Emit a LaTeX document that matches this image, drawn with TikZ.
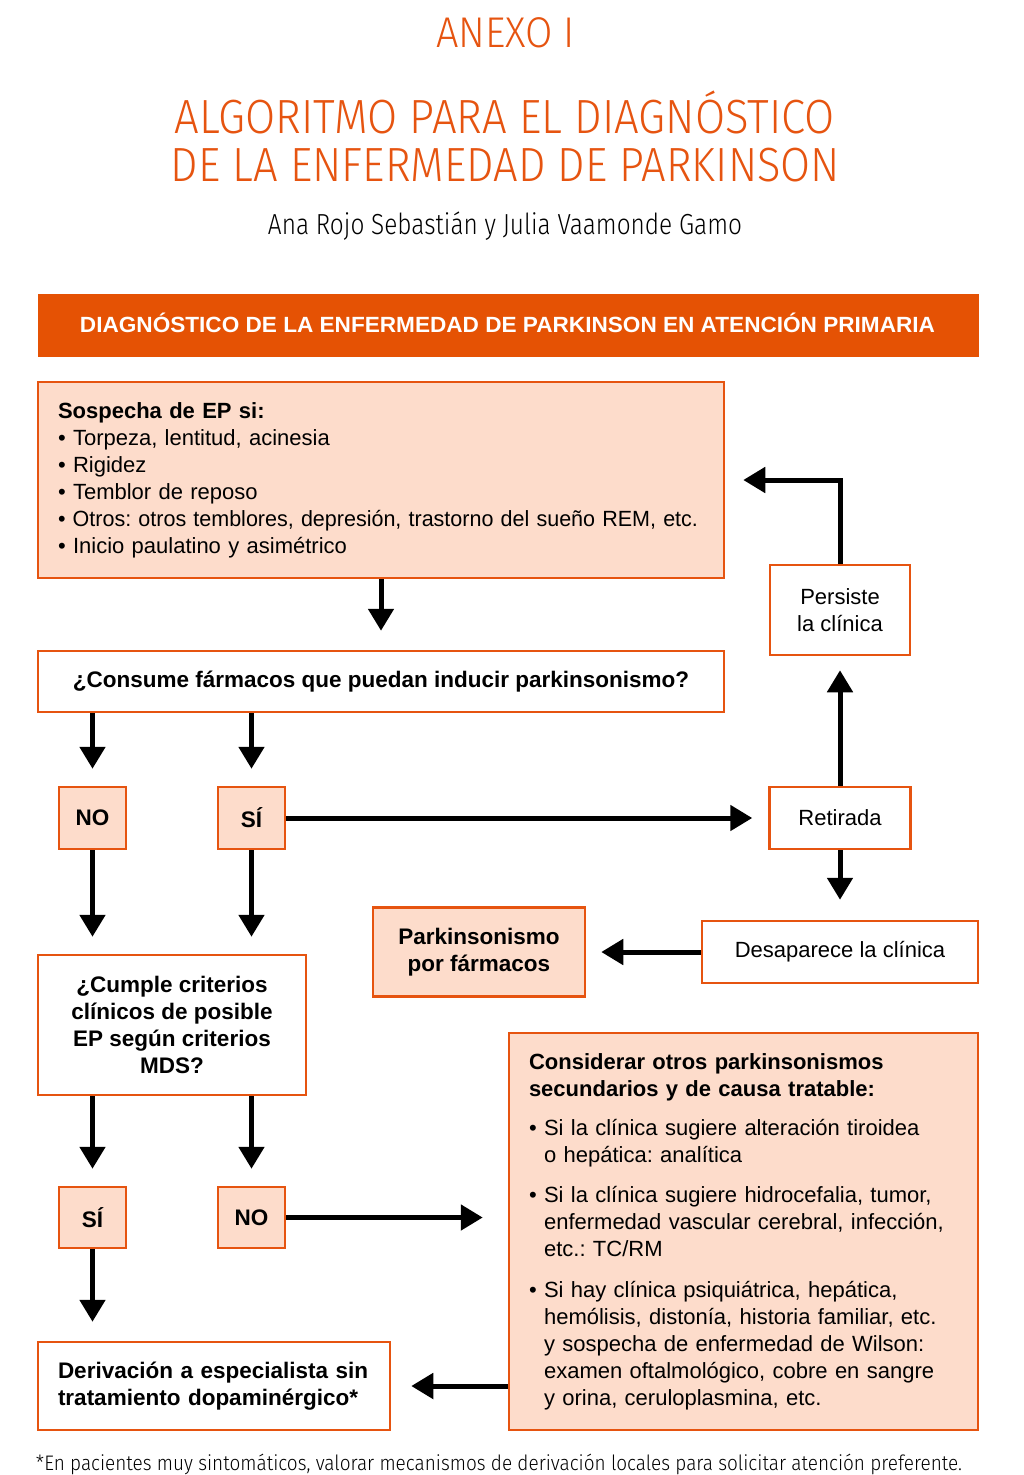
\documentclass[tikz,border=0pt]{standalone}
\usepackage{fontspec}
\usepackage{graphicx}
\setmainfont{Liberation Sans}
\IfFontExistsTF{Fira Sans Light}{\newfontfamily\lightf{Fira Sans Light}}{\newfontfamily\lightf{Fira Sans}}
\usetikzlibrary{arrows.meta}
\definecolor{orng}{HTML}{E65410}
\definecolor{peach}{HTML}{FDDCCB}
\definecolor{bannerc}{HTML}{E55204}
\newcommand{\wfit}[2]{\resizebox{#1pt}{\height}{#2}}
\newcommand{\bul}{\textbullet\ }
\newcommand{\ind}{\phantom{\textbullet\ }}
\begin{document}
\frenchspacing
\begin{tikzpicture}[x=1pt,y=-1pt,
  box/.style={draw=orng, line width=2.5pt, inner sep=0pt, font=\fontsize{22}{27}\selectfont\frenchspacing},
  pbox/.style={box, fill=peach},
  wbox/.style={box, fill=white},
  bld/.style={font=\fontsize{22.5}{27}\selectfont\bfseries\frenchspacing},
  ttl/.style={anchor=base, inner sep=0pt, text=orng},
  arr/.style={draw=black, line width=5pt, -{Triangle[length=22pt,width=25pt]}}]
\useasboundingbox (0,0) rectangle (1024,1475);
\fill[white] (0,0) rectangle (1024,1475);
% titles
\node[ttl, font=\lightf\fontsize{43}{43}\selectfont] (anexo) at (505.5,47) {\wfit{139}{ANEXO I}};
\node[ttl, font=\lightf\fontsize{48}{48}\selectfont] (t1) at (505,133) {\wfit{660}{ALGORITMO PARA EL DIAGNÓSTICO}};
\node[ttl, font=\lightf\fontsize{48}{48}\selectfont] (t2) at (505.5,181) {\wfit{669}{DE LA ENFERMEDAD DE PARKINSON}};
\node[ttl, text=black, font=\lightf\fontsize{29}{29}\selectfont] (auth) at (505,234) {\wfit{474}{Ana Rojo Sebastián y Julia Vaamonde Gamo}};
% banner
\node[fill=bannerc, minimum width=941, minimum height=63, inner sep=0pt] (banner) at (508.5,325.5) {};
\node[anchor=base, inner sep=0pt, text=white, font=\fontsize{22}{22}\selectfont\bfseries] (bannertext) at (507.5,332) {\wfit{855}{DIAGNÓSTICO DE LA ENFERMEDAD DE PARKINSON EN ATENCIÓN PRIMARIA}};
% boxes
\node[pbox, minimum width=686, minimum height=196, text width=646, align=left] (sosp) at (381,480)
 {\textbf{Sospecha de EP si:}\\
  \bul Torpeza, lentitud, acinesia\\
  \bul Rigidez\\
  \bul Temblor de reposo\\
  \wfit{640}{\bul Otros: otros temblores, depresión, trastorno del sueño REM, etc.}\\
  \bul Inicio paulatino y asimétrico};
\node[wbox, bld, minimum width=686, minimum height=61] (cons) at (381,681.5) {¿Consume fármacos que puedan inducir parkinsonismo?};
\node[pbox, bld, minimum width=67, minimum height=62] (no1) at (92.5,818) {NO};
\node[pbox, bld, minimum width=67, minimum height=62] (si1) at (251.5,818) {SÍ};
\node[wbox, minimum width=141, minimum height=62] (retir) at (840,818) {Retirada};
\node[wbox, minimum width=140, minimum height=90, align=center] (pers) at (840,610) {Persiste\\la clínica};
\node[wbox, minimum width=276, minimum height=62] (desap) at (840,952) {Desaparece la clínica};
\node[pbox, bld, minimum width=212, minimum height=89, align=center] (parkf) at (479,952) {Parkinsonismo\\por fármacos};
\node[wbox, bld, minimum width=268, minimum height=140, align=center] (cump) at (172,1025) {¿Cumple criterios\\clínicos de posible\\EP según criterios\\MDS?};
\node[pbox, bld, minimum width=67, minimum height=61] (si2) at (92.5,1217.5) {SÍ};
\node[pbox, bld, minimum width=67, minimum height=61] (no2) at (251.5,1217.5) {NO};
\node[wbox, bld, minimum width=352, minimum height=88, text width=312, align=left] (deriv) at (214,1386) {Derivación a especialista sin\\tratamiento dopaminérgico*};
\node[pbox, minimum width=469, minimum height=397, text width=429, align=left] (consid) at (743.5,1231.5)
 {\textbf{Considerar otros parkinsonismos}\\
  \textbf{secundarios y de causa tratable:}\\[12pt]
  \bul Si la clínica sugiere alteración tiroidea\\
  \ind o hepática: analítica\\[13pt]
  \bul Si la clínica sugiere hidrocefalia, tumor,\\
  \ind enfermedad vascular cerebral, infección,\\
  \ind etc.: TC/RM\\[14pt]
  \bul Si hay clínica psiquiátrica, hepática,\\
  \ind hemólisis, distonía, historia familiar, etc.\\
  \ind y sospecha de enfermedad de Wilson:\\
  \ind examen oftalmológico, cobre en sangre\\
  \ind y orina, ceruloplasmina, etc.};
% footnote
\node[anchor=base, inner sep=0pt, font=\lightf\fontsize{21}{21}\selectfont] (foot) at (499,1470) {\wfit{926}{*En pacientes muy sintomáticos, valorar mecanismos de derivación locales para solicitar atención preferente.}};
% connectors
\draw[arr, shorten >=19pt] (sosp.south) -- (cons.north);
\draw[arr, shorten >=17pt] (no1 |- cons.south) -- (no1.north);
\draw[arr, shorten >=17pt] (si1 |- cons.south) -- (si1.north);
\draw[arr, shorten >=17pt] (no1.south) -- (no1 |- cump.north);
\draw[arr, shorten >=17pt] (si1.south) -- (si1 |- cump.north);
\draw[arr, shorten >=16pt] (si1.east) -- (retir.west);
\draw[arr, shorten >=14pt] (retir.north) -- (pers.south);
\draw[arr, shorten >=18pt] (pers.north) |- (sosp.east);
\draw[arr, shorten >=20pt] (retir.south) -- (desap.north);
\draw[arr, shorten >=15pt] (desap.west) -- (parkf.east);
\draw[arr, shorten >=17pt] (si2 |- cump.south) -- (si2.north);
\draw[arr, shorten >=17pt] (no2 |- cump.south) -- (no2.north);
\draw[arr, shorten >=25pt] (no2.east) -- (no2.east -| consid.west);
\draw[arr, shorten >=19pt] (si2.south) -- (si2 |- deriv.north);
\draw[arr, shorten >=20pt] (consid.west |- deriv.east) -- (deriv.east);
\end{tikzpicture}
\end{document}
